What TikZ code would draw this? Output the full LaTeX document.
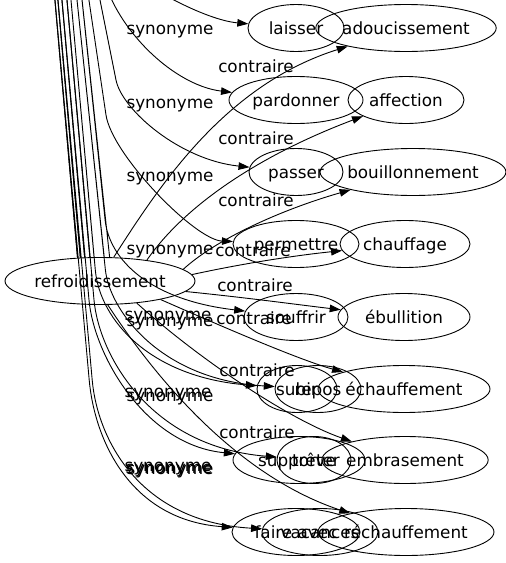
\documentclass[tikz,border=0pt]{standalone}
\usepackage{fontspec}
\setmainfont{DejaVu Sans}
\usetikzlibrary{shapes.geometric,arrows.meta}

\begin{document}
\begin{tikzpicture}[x=1pt, y=-1pt,
		every node/.style={font=\fontsize{16.8}{19}\selectfont, text height=15.5pt, text depth=3.5pt},
		word/.style={draw, ellipse, line width=0.9pt, inner sep=0pt, minimum height=47pt},
		rel/.style={line width=0.9pt, -{Triangle[length=11pt,width=7.5pt]}},
		lbl/.style={inner sep=0pt}]
			\useasboundingbox (0,0) rectangle (506,563);
			\clip (0,0) rectangle (506,563);

			% Draw the word itself
			\node[word, minimum width=190pt] (refroid) at (100,281) {refroidissement};

			% Draw the synonymes
			\node[word, minimum width=96pt] (laisser) at (296,28) {laisser};
			\node[word, minimum width=134pt] (pardonner) at (296,100) {pardonner};
			\node[word, minimum width=94pt] (passer) at (296,172) {passer};
			\node[word, minimum width=126pt] (permettre) at (296,244) {permettre};
			\node[word, minimum width=104pt] (souffrir) at (296,317) {souffrir};
			\node[word, minimum width=80pt] (subir) at (297,389) {subir};
			\node[word, minimum width=86pt] (repos) at (318,389) {repos};
			\node[word, minimum width=132pt] (supporter) at (299,460) {supporter};
			\node[word, minimum width=74pt] (treve) at (314,460) {trêve};
			\node[word, minimum width=128pt] (faireavec) at (296,532) {faire avec};
			\node[word, minimum width=116pt] (vacances) at (320,532) {vacances};

			% Draw the contraires
			\node[word, minimum width=178pt] (adouciss) at (406,28) {adoucissement};
			\node[word, minimum width=116pt] (affection) at (406,100) {affection};
			\node[word, minimum width=174pt] (bouillon) at (413,172) {bouillonnement};
			\node[word, minimum width=130pt] (chauffage) at (405,244) {chauffage};
			\node[word, minimum width=132pt] (ebullition) at (404,317) {ébullition};
			\node[word, minimum width=172pt] (echauff) at (404,389) {échauffement};
			\node[word, minimum width=166pt] (embras) at (405,460) {embrasement};
			\node[word, minimum width=176pt] (rechauff) at (406,532) {réchauffement};

			% Draw the synonyme edges (they leave the picture at the top and come back)
			\draw[rel] (refroid.134) -- (51.4,-40) -- (115,-40) .. controls (140,-15) and (205,20) .. (laisser);
			\draw[rel] (refroid.130) -- (54.4,-40) -- (100,-40) .. controls (106,20) and (170,85) .. (pardonner);
			\draw[rel] (refroid.123) -- (58.4,-40) -- (92,-40) -- (116,80) .. controls (122,110) and (180,160) .. (passer);
			\draw[rel] (refroid.113) -- (63.4,-40) -- (83,-40) -- (106,115) .. controls (112,155) and (195,240) .. (permettre);
			\draw[rel] (refroid.68) -- (77.8,-40) -- (105.1,220) .. controls (109.3,260) and (150,300) .. (souffrir);
			\draw[rel] (refroid.104) -- (67.4,-40) -- (95.3,270) .. controls (99.8,320) and (150,377) .. (subir);
			\draw[rel] (refroid.80) -- (72.8,-40) -- (105.4,270) .. controls (109.6,310) and (160,380) .. (repos);
			\draw[rel] (refroid.123) -- (58.4,-40) -- (89,300) .. controls (94,355) and (145,445) .. (supporter);
			\draw[rel] (refroid.113) -- (63.4,-40) -- (94,300) .. controls (99,355) and (150,447) .. (treve);
			\draw[rel] (refroid.134) -- (51.4,-40) -- (89.2,380) .. controls (94.6,440) and (130,520) .. (faireavec);
			\draw[rel] (refroid.130) -- (54.4,-40) -- (92.2,380) .. controls (97.6,440) and (140,522) .. (vacances);

			% Draw the contraire edges
			\draw[rel] (refroid.60) .. controls (160,185) and (225,85) .. (adouciss);
			\draw[rel] (refroid.24) .. controls (185,205) and (260,155) .. (affection);
			\draw[rel] (refroid.8) .. controls (215,240) and (280,210) .. (bouillon);
			\draw[rel] (refroid.4) .. controls (250,262) and (300,255) .. (chauffage);
			\draw[rel] (refroid.353) .. controls (250,298) and (300,305) .. (ebullition);
			\draw[rel] (refroid.343) .. controls (230,330) and (300,360) .. (echauff);
			\draw[rel] (refroid.329) .. controls (200,360) and (290,420) .. (embras);
			\draw[rel] (refroid.288) .. controls (170,400) and (250,480) .. (rechauff);

			% Draw the edge labels
			\node[lbl] (syn1) at (170,28) {synonyme};
			\node[lbl] (syn2) at (170,102) {synonyme};
			\node[lbl] (syn3) at (170,175) {synonyme};
			\node[lbl] (syn4) at (170,248) {synonyme};
			\node[lbl] (syn5) at (168,314) {synonyme};
			\node[lbl] (syn6) at (170,320) {synonyme};
			\node[lbl] (syn7) at (168,391) {synonyme};
			\node[lbl] (syn8) at (170,395) {synonyme};
			\node[lbl] (syn9) at (168,465) {synonyme};
			\node[lbl] (syn10) at (170,468) {synonyme};
			\node[lbl] (syn11) at (169,467) {synonyme};

			\node[lbl] (con1) at (256,66) {contraire};
			\node[lbl] (con2) at (256,138) {contraire};
			\node[lbl] (con3) at (256,200) {contraire};
			\node[lbl] (con4) at (253,250) {contraire};
			\node[lbl] (con5) at (255,285) {contraire};
			\node[lbl] (con6) at (254,318) {contraire};
			\node[lbl] (con7) at (257,370) {contraire};
			\node[lbl] (con8) at (257,432) {contraire};
		\end{tikzpicture}
\end{document}
